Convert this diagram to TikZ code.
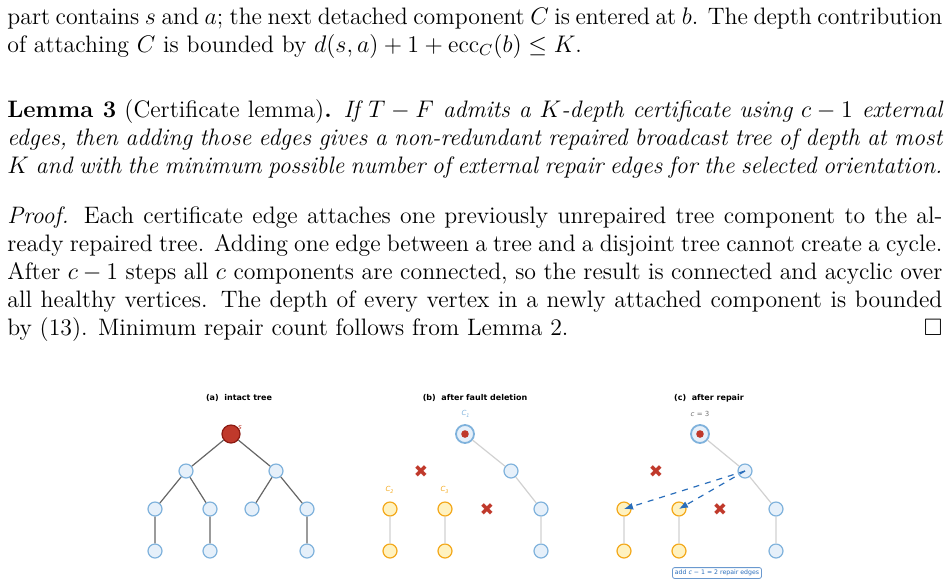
\documentclass[tikz,border=0pt]{standalone}
\usepackage{amsmath,amssymb}
\usepackage{fontspec}
\newfontfamily\figfont{DejaVu Sans}
\usetikzlibrary{arrows.meta}
\definecolor{nblue}{HTML}{E6F0FA}
\definecolor{bblue}{HTML}{7FB2DC}
\definecolor{nyel}{HTML}{FFF2C0}
\definecolor{byel}{HTML}{F3A81A}
\definecolor{rred}{HTML}{C0392B}
\definecolor{dred}{HTML}{8B1A12}
\definecolor{ablue}{HTML}{2A6EBB}
\tikzset{
 vb/.style={circle,draw=bblue,fill=nblue,line width=0.6pt,minimum size=7pt,inner sep=0pt},
 vy/.style={circle,draw=byel,fill=nyel,line width=0.6pt,minimum size=7pt,inner sep=0pt},
 vroot/.style={circle,draw=dred,fill=rred,line width=0.6pt,minimum size=9pt,inner sep=0pt},
 vring/.style={circle,draw=bblue,fill=nblue,line width=0.9pt,minimum size=9pt,inner sep=0pt,path picture={\fill[rred] (path picture bounding box.center) circle (1.9pt);}},
 ed/.style={draw=black!60,line width=0.6pt},
 el/.style={draw=black!18,line width=0.6pt},
 ttl/.style={font=\figfont\fontsize{4}{5}\selectfont\bfseries},
 sm/.style={font=\figfont\fontsize{3.5}{4}\selectfont,inner sep=0pt},
 xm/.style={text=rred,font=\figfont\fontsize{8.5}{8.5}\selectfont\bfseries,inner sep=0pt},
 rep/.style={draw=ablue,dashed,line width=0.6pt,-{Latex[length=4.5pt,width=3.5pt]}},
 para/.style={anchor=north west,inner sep=0pt,text width=467.5pt,align=justify,font=\fontsize{11.9}{14}\selectfont},
}
\begin{document}
\begin{tikzpicture}[x=0.5pt,y=-0.5pt]
\useasboundingbox (0,0) rectangle (949,586);
\node[para] (p1) at (7,7) {part contains $s$ and $a$; the next detached component $C$ is entered at $b$. The depth contribution\linebreak of attaching $C$ is bounded by $d(s,a)+1+\mathrm{ecc}_C(b)\le K$.};
\node[para] (p2) at (7,99) {\textbf{Lemma 3} (Certificate lemma)\textbf{.} \textit{If $T-F$ admits a $K$-depth certificate using $c-1$ external\linebreak edges, then adding those edges gives a non-redundant repaired broadcast tree of depth at most\linebreak $K$ and with the minimum possible number of external repair edges for the selected orientation.}};
\node[para] (p3) at (7,206) {\textit{Proof.} Each certificate edge attaches one previously unrepaired tree component to the al-\linebreak ready repaired tree. Adding one edge between a tree and a disjoint tree cannot create a cycle.\linebreak After $c-1$ steps all $c$ components are connected, so the result is connected and acyclic over\linebreak all healthy vertices. The depth of every vertex in a newly attached component is bounded\linebreak by (13). Minimum repair count follows from Lemma 2.\hfill$\square$};
% titles
\node[ttl] (ta) at (239,398) {(a)\ \ intact tree};
\node[ttl] (tb) at (475,398) {(b)\ \ after fault deletion};
\node[ttl] (tc) at (709,398) {(c)\ \ after repair};
% (a)
\node[sm,text=rred] (sl) at (240,428) {\itshape s};
\node[vroot] (a0) at (231,434) {};
\node[vb] (a1) at (186,471) {}; \node[vb] (a2) at (276,471) {};
\node[vb] (a3) at (155,509) {}; \node[vb] (a4) at (210,509) {};
\node[vb] (a5) at (252,509) {}; \node[vb] (a6) at (307,509) {};
\node[vb] (a7) at (155,551) {}; \node[vb] (a8) at (210,551) {}; \node[vb] (a9) at (307,551) {};
\draw[ed] (a0)--(a1) (a0)--(a2) (a1)--(a3) (a1)--(a4) (a2)--(a5) (a2)--(a6) (a3)--(a7) (a4)--(a8) (a6)--(a9);
% (b)
\node[sm,text=bblue] (c1) at (466,414) {\itshape C\textsubscript{1}};
\node[vring] (b0) at (465,434) {};
\node[vb] (b2) at (511,471) {}; \node[vb] (b6) at (541,509) {}; \node[vb] (b9) at (541,551) {};
\node[sm,text=byel] (c2) at (390,490) {\itshape C\textsubscript{2}};
\node[sm,text=byel] (c3) at (445,490) {\itshape C\textsubscript{3}};
\node[vy] (b3) at (390,509) {}; \node[vy] (b7) at (390,551) {};
\node[vy] (b4) at (445,509) {}; \node[vy] (b8) at (445,551) {};
\draw[el] (b0)--(b2) (b2)--(b6) (b6)--(b9) (b3)--(b7) (b4)--(b8);
\node[xm] (bx1) at (421,472) {\symbol{"2716}};
\node[xm] (bx2) at (487,510) {\symbol{"2716}};
% (c)
\node[sm,text=black!55] (cc) at (700,414) {\textit{c} = 3};
\node[vring] (d0) at (700,434) {};
\node[vb] (d2) at (745,471) {}; \node[vb] (d6) at (776,509) {}; \node[vb] (d9) at (776,551) {};
\node[vy] (d3) at (624,509) {}; \node[vy] (d7) at (624,551) {};
\node[vy] (d4) at (679,509) {}; \node[vy] (d8) at (679,551) {};
\draw[el] (d0)--(d2) (d2)--(d6) (d6)--(d9) (d3)--(d7) (d4)--(d8);
\node[xm] (dx1) at (656,472) {\symbol{"2716}};
\node[xm] (dx2) at (720,510) {\symbol{"2716}};
\draw[rep] (d2.center)--(d3.center);
\draw[rep] (d2.center)--(d4.center);
\node[font=\figfont\fontsize{3.1}{4}\selectfont,draw=ablue!70,rounded corners=1pt,fill=white,text=ablue,inner sep=1.2pt] (lab) at (717,573) {add \textit{c} − 1 = 2 repair edges};
\end{tikzpicture}
\end{document}
